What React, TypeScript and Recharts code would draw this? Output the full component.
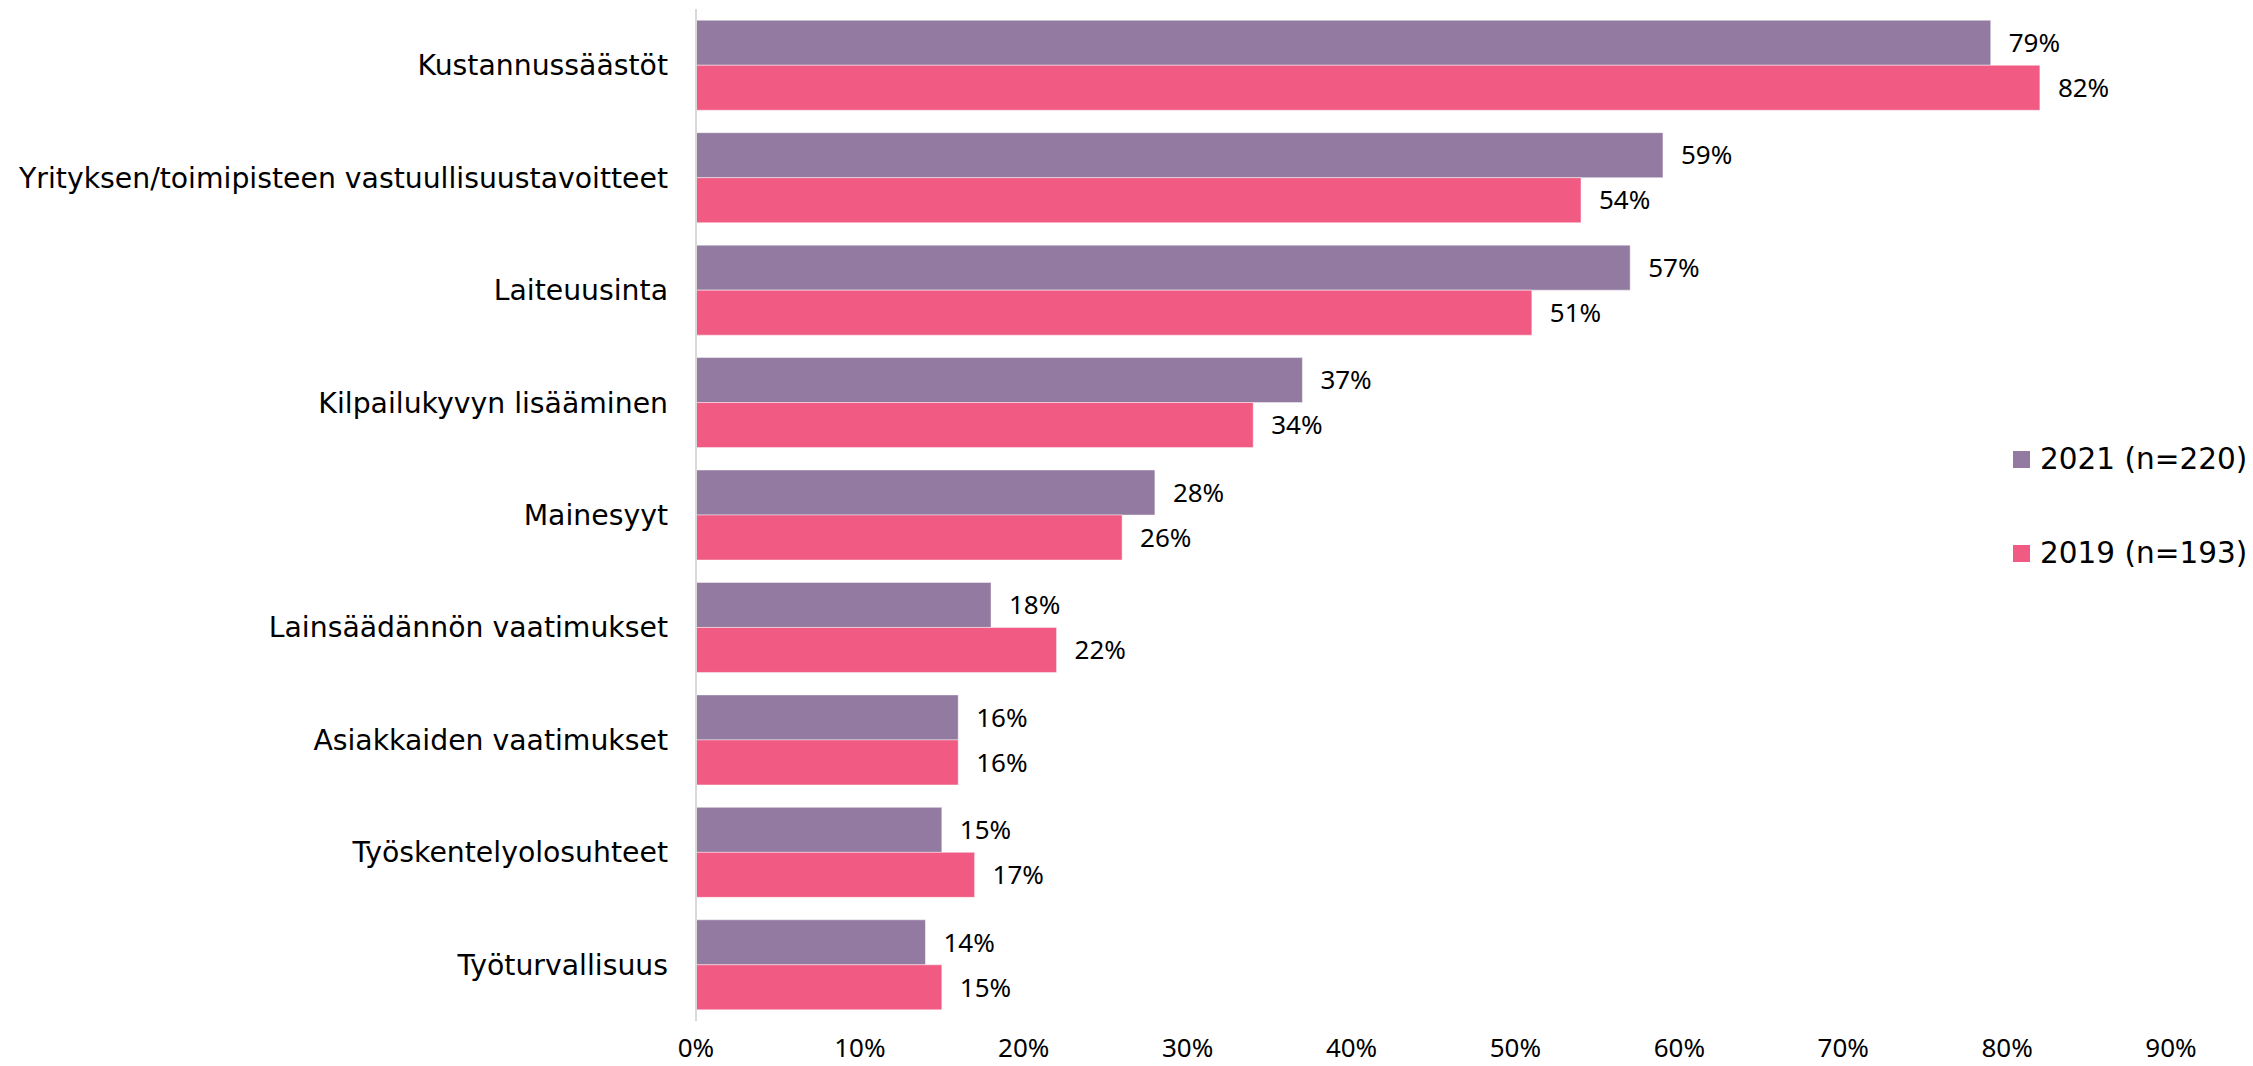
import { BarChart, Bar, XAxis, YAxis, Legend, LabelList } from 'recharts';

const categories = [
  'Kustannussäästöt',
  'Yrityksen/toimipisteen vastuullisuustavoitteet',
  'Laiteuusinta',
  'Kilpailukyvyn lisääminen',
  'Mainesyyt',
  'Lainsäädännön vaatimukset',
  'Asiakkaiden vaatimukset',
  'Työskentelyolosuhteet',
  'Työturvallisuus',
];

const values2021 = [79, 59, 57, 37, 28, 18, 16, 15, 14];
const values2019 = [82, 54, 51, 34, 26, 22, 16, 17, 15];

const seriesNames = ['2021 (n=220)', '2019 (n=193)'];

const xTicks = [0, 10, 20, 30, 40, 50, 60, 70, 80, 90];

const PURPLE = '#927aa1';
const PINK = '#f05a83';

const data = categories.map((name, i) => ({
  name,
  y2021: values2021[i],
  y2019: values2019[i],
}));

// keep the legend in series order (recharts sorts it by name otherwise)
const renderLegend = (props: any) => {
  const payload = [...(props.payload || [])].sort(
    (a: any, b: any) => seriesNames.indexOf(a.value) - seriesNames.indexOf(b.value)
  );
  return (
    <div>
      {payload.map((entry: any, i: number) => (
        <div
          key={`leg-${i}`}
          style={{
            display: 'flex',
            alignItems: 'center',
            height: 40,
            marginBottom: i === 0 ? 54 : 0,
          }}
        >
          <span
            style={{
              display: 'inline-block',
              width: 17,
              height: 17,
              background: entry.color,
              marginRight: 10,
            }}
          />
          <span
            style={{
              fontFamily: '"DejaVu Sans", sans-serif',
              fontSize: 29.5,
              color: '#000',
              whiteSpace: 'nowrap',
            }}
          >
            {entry.value}
          </span>
        </div>
      ))}
    </div>
  );
};

export default function App() {
  return (
    <div style={{ position: 'absolute', left: 0, top: 0, width: 2253, height: 1066, background: '#fff' }}>
      <BarChart
        width={2253}
        height={1066}
        data={data}
        layout="vertical"
        margin={{ top: 9, right: 82, left: 0, bottom: 0 }}
        barCategoryGap="10%"
        barGap={0}
      >
        <XAxis
          type="number"
          domain={[0, 90]}
          ticks={xTicks}
          tickFormatter={(v) => `${v}%`}
          axisLine={false}
          tickLine={false}
          tickSize={0}
          tickMargin={18}
          height={45}
          interval={0}
          tick={{ fill: '#000', fontSize: 26, fontFamily: '"Noto Sans", sans-serif' }}
        />
        <YAxis
          type="category"
          dataKey="name"
          width={696}
          axisLine={{ stroke: '#d9d9d9', strokeWidth: 2 }}
          tickLine={false}
          tickSize={0}
          tickMargin={28}
          interval={0}
          tick={{ fill: '#000', fontSize: 28.3, fontFamily: '"DejaVu Sans", sans-serif' }}
        />
        <Legend
          layout="vertical"
          align="center"
          verticalAlign="middle"
          content={renderLegend}
          wrapperStyle={{ left: 2013, top: 439, width: 240 }}
        />
        <Bar dataKey="y2021" name={seriesNames[0]} fill={PURPLE} stroke="#ffffff" strokeOpacity={0.45} strokeWidth={1} isAnimationActive={false}>
          <LabelList
            dataKey="y2021"
            position="right"
            offset={18}
            formatter={(v: any) => `${v}%`}
            style={{ fill: '#000', fontSize: 26, fontFamily: '"Noto Sans", sans-serif' }}
          />
        </Bar>
        <Bar dataKey="y2019" name={seriesNames[1]} fill={PINK} stroke="#ffffff" strokeOpacity={0.45} strokeWidth={1} isAnimationActive={false}>
          <LabelList
            dataKey="y2019"
            position="right"
            offset={18}
            formatter={(v: any) => `${v}%`}
            style={{ fill: '#000', fontSize: 26, fontFamily: '"Noto Sans", sans-serif' }}
          />
        </Bar>
      </BarChart>
    </div>
  );
}
